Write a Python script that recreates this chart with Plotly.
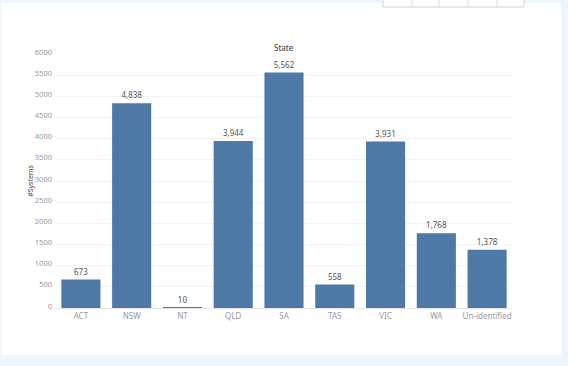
import plotly.graph_objects as go

states = ["ACT", "NSW", "NT", "QLD", "SA", "TAS", "VIC", "WA", "Un-identified"]
systems = [673, 4838, 10, 3944, 5562, 558, 3931, 1768, 1378]
y_ticks = list(range(0, 6001, 500))

W, H = 568, 366
L, R, T, B = 55, 513, 54, 308  # plot area in pixels


def px(x):
    return (x - L) / (R - L)


def py(y):
    return (B - y) / (B - T)


FONT = "Noto Sans"

fig = go.Figure()
fig.add_trace(
    go.Bar(
        x=states,
        y=systems,
        marker=dict(color="#4e79a7", line=dict(width=0)),
        hoverinfo="x+y",
    )
)
fig.add_trace(
    go.Scatter(
        x=states,
        y=systems,
        mode="markers+text",
        marker=dict(size=3, color="rgba(0,0,0,0)"),
        text=[f"{v:,}" for v in systems],
        textposition="top center",
        textfont=dict(family=FONT, size=8, color="#555555"),
        cliponaxis=False,
        hoverinfo="skip",
    )
)

shapes = [
    # white panel
    dict(type="rect", xref="paper", yref="paper", x0=px(1), x1=px(561), y0=py(3), y1=py(355),
         fillcolor="white", line=dict(width=0), layer="below"),
    # top-right table strip
    dict(type="rect", xref="paper", yref="paper", x0=px(383), x1=px(524), y0=py(-2), y1=py(7),
         fillcolor="white", line=dict(color="#d0d0d0", width=1), layer="above"),
]
for xd in [412, 439, 468, 497]:
    shapes.append(dict(type="line", xref="paper", yref="paper", x0=px(xd), x1=px(xd),
                       y0=py(0), y1=py(7), line=dict(color="#d8d8d8", width=1)))

fig.update_layout(
    width=W,
    height=H,
    margin=dict(l=L, r=W - R, t=T, b=H - B, pad=0, autoexpand=False),
    paper_bgcolor="#eef6fd",
    plot_bgcolor="rgba(0,0,0,0)",
    bargap=0.23,
    showlegend=False,
    font=dict(family=FONT, size=8, color="#888888"),
    shapes=shapes,
    annotations=[
        dict(text="State", xref="paper", yref="paper", x=0.5, y=1, yshift=-1,
             showarrow=False, yanchor="bottom",
             font=dict(family=FONT, size=8, color="#333333")),
    ],
)

fig.update_xaxes(
    automargin=False,
    showgrid=False,
    showline=True,
    linecolor="#e6e6e6",
    linewidth=1,
    ticks="",
    tickfont=dict(family=FONT, size=8, color="#999999"),
    ticklabelstandoff=0,
)
fig.update_yaxes(
    automargin=False,
    range=[0, 6000],
    tickvals=y_ticks,
    ticktext=[str(v) for v in y_ticks],
    showgrid=True,
    gridcolor="#f3f3f3",
    gridwidth=1,
    zeroline=False,
    showline=False,
    ticks="",
    tickfont=dict(family=FONT, size=7.5, color="#9a9a9a"),
    ticklabelstandoff=2,
    ticklabelshift=-2,
    title=dict(text="#Systems", standoff=0, font=dict(family=FONT, size=7, color="#444444")),
)

fig.write_html(
    "out.html",
    config={"displayModeBar": False},
    post_script="document.body.style.margin='0';document.body.style.overflow='hidden';",
)
